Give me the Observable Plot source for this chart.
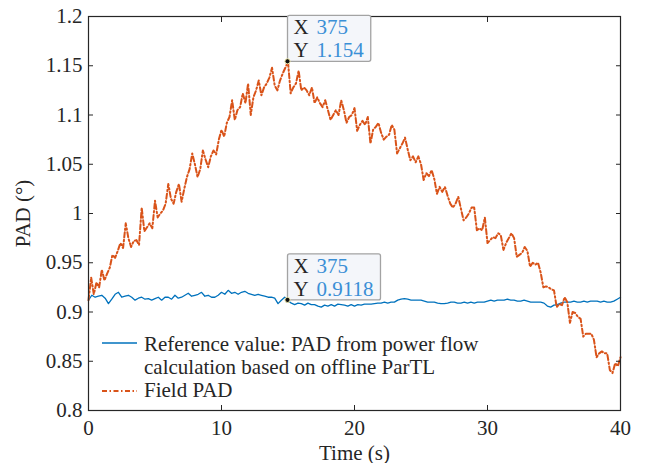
<!DOCTYPE html>
<html><head><meta charset="utf-8">
<script src="https://cdn.jsdelivr.net/npm/d3@7"></script>
<script src="https://cdn.jsdelivr.net/npm/@observablehq/plot@0.6"></script>
<style>body{margin:0;background:#fff} #chart{width:650px;height:463px;}</style>
</head><body><div id="chart"></div>
<script>
// Field PAD, sampled every 0.2 s (0 .. 40 s)
const fieldStep = 0.2;
const fieldPAD = [
  0.912, 0.935, 0.918, 0.930, 0.925,
  0.943, 0.932, 0.939, 0.945, 0.958,
  0.955, 0.962, 0.970, 0.965, 0.990,
  0.975, 0.966, 0.972, 0.973, 0.968,
  1.006, 0.982, 0.986, 0.990, 0.985,
  1.013, 0.996, 1.000, 1.003, 1.010,
  1.030, 1.015, 1.010, 1.022, 1.030,
  1.012, 1.025, 1.037, 1.045, 1.061,
  1.050, 1.037, 1.045, 1.064, 1.055,
  1.047, 1.058, 1.064, 1.060, 1.075,
  1.085, 1.078, 1.092, 1.098, 1.115,
  1.095, 1.105, 1.108, 1.122, 1.112,
  1.132, 1.100, 1.118, 1.125, 1.135,
  1.120, 1.128, 1.132, 1.138, 1.148,
  1.130, 1.125, 1.135, 1.142, 1.148,
  1.154, 1.122, 1.128, 1.132, 1.145,
  1.125, 1.128, 1.125, 1.120, 1.128,
  1.112, 1.118, 1.112, 1.108, 1.115,
  1.105, 1.095, 1.100, 1.105, 1.100,
  1.115, 1.105, 1.092, 1.098, 1.100,
  1.107, 1.084, 1.090, 1.094, 1.090,
  1.098, 1.071, 1.085, 1.088, 1.092,
  1.082, 1.075, 1.078, 1.080, 1.090,
  1.085, 1.061, 1.066, 1.071, 1.077,
  1.065, 1.054, 1.058, 1.052, 1.058,
  1.050, 1.034, 1.041, 1.038, 1.044,
  1.035, 1.020, 1.027, 1.022, 1.027,
  1.018, 1.010, 1.006, 1.010, 1.017,
  1.005, 0.993, 0.996, 1.000, 1.006,
  1.006, 0.983, 0.985, 0.983, 0.996,
  0.970, 0.973, 0.976, 0.975, 0.980,
  0.978, 0.963, 0.970, 0.975, 0.980,
  0.975, 0.956, 0.958, 0.960, 0.966,
  0.962, 0.946, 0.950, 0.948, 0.950,
  0.940, 0.925, 0.926, 0.925, 0.923,
  0.922, 0.905, 0.908, 0.907, 0.915,
  0.910, 0.889, 0.900, 0.899, 0.895,
  0.893, 0.875, 0.878, 0.878, 0.878,
  0.872, 0.854, 0.858, 0.860, 0.858,
  0.858, 0.841, 0.838, 0.848, 0.845,
  0.854
];
// Reference PAD, sampled every 0.25 s (0 .. 40 s)
const refStep = 0.25;
const refPAD = [
  0.912, 0.917, 0.915, 0.916,
  0.917, 0.914, 0.9085, 0.913,
  0.918, 0.920, 0.915, 0.916,
  0.917, 0.915, 0.912, 0.914,
  0.915, 0.913, 0.9135, 0.912,
  0.9135, 0.915, 0.912, 0.915,
  0.915, 0.913, 0.917, 0.914,
  0.915, 0.917, 0.919, 0.916,
  0.917, 0.918, 0.920, 0.916,
  0.917, 0.915, 0.915, 0.917,
  0.920, 0.918, 0.922, 0.919,
  0.920, 0.918, 0.920, 0.921,
  0.919, 0.918, 0.917, 0.918,
  0.917, 0.916, 0.915, 0.915,
  0.914, 0.9085, 0.912, 0.915,
  0.9118, 0.909, 0.9075, 0.909,
  0.9085, 0.907, 0.909, 0.9075,
  0.9075, 0.906, 0.905, 0.907,
  0.906, 0.9075, 0.906, 0.908,
  0.9075, 0.907, 0.906, 0.9075,
  0.906, 0.9075, 0.907, 0.908,
  0.908, 0.908, 0.9085, 0.909,
  0.909, 0.910, 0.909, 0.910,
  0.910, 0.912, 0.913, 0.9135,
  0.913, 0.912, 0.912, 0.912,
  0.912, 0.911, 0.910, 0.910,
  0.910, 0.909, 0.9085, 0.9085,
  0.909, 0.910, 0.910, 0.909,
  0.909, 0.910, 0.909, 0.910,
  0.909, 0.910, 0.910, 0.910,
  0.911, 0.912, 0.911, 0.912,
  0.912, 0.912, 0.913, 0.912,
  0.912, 0.911, 0.911, 0.912,
  0.911, 0.910, 0.910, 0.910,
  0.910, 0.909, 0.906, 0.905,
  0.907, 0.9075, 0.909, 0.910,
  0.910, 0.910, 0.911, 0.910,
  0.910, 0.911, 0.910, 0.911,
  0.911, 0.911, 0.910, 0.911,
  0.910, 0.910, 0.911, 0.913,
  0.915
];
const xTicks = [0, 10, 20, 30, 40];
const yTicks = [0.8, 0.85, 0.9, 0.95, 1, 1.05, 1.1, 1.15, 1.2];
const yTickLabels = ["0.8", "0.85", "0.9", "0.95", "1", "1.05", "1.1", "1.15", "1.2"];
const xLabel = "Time (s)";
const yLabel = "PAD (°)";
const legendRefLines = ["Reference value: PAD from power flow", "calculation based on offline ParTL"];
const legendField = "Field PAD";
const tipX = [15, 15];
const tipY = [1.154, 0.9118];
const tipXText = ["375", "375"];
const tipYText = ["1.154", "0.9118"];

const blue = "#0072BD", orange = "#D95319", ink = "#262626";
const field = fieldPAD.map((v, i) => ({t: +(i * fieldStep).toFixed(2), v}));
const ref = refPAD.map((v, i) => ({t: +(i * refStep).toFixed(2), v}));
const fmtY = d => yTickLabels[yTicks.indexOf(d)];
const font = "'Liberation Serif', 'Times New Roman', serif";

const chart = Plot.plot({
  width: 650, height: 463,
  marginLeft: 88, marginRight: 30, marginTop: 16, marginBottom: 53,
  style: {fontFamily: font, fontSize: "21px", color: ink, background: "#fff"},
  x: {domain: [0, 40]},
  y: {domain: [0.8, 1.2]},
  marks: [
    Plot.line(ref, {x: "t", y: "v", stroke: blue, strokeWidth: 1.3}),
    Plot.line(field, {x: "t", y: "v", stroke: orange, strokeWidth: 2, strokeDasharray: "5,2.5,1.5,2.5"}),
    Plot.frame({stroke: ink, strokeWidth: 1.2}),
    Plot.axisX({ticks: xTicks, tickSize: 0, tickPadding: 10, tickFormat: d => String(d), label: xLabel, labelAnchor: "center", labelArrow: "none", labelOffset: 49}),
    Plot.axisX({ticks: xTicks, anchor: "bottom", tickSize: 5, dy: -5, tickFormat: () => "", label: null, stroke: ink}),
    Plot.axisX({ticks: xTicks, anchor: "top", tickSize: 5, dy: 5, tickFormat: () => "", label: null, stroke: ink}),
    Plot.axisY({ticks: yTicks, tickSize: 0, tickPadding: 6, tickFormat: fmtY, label: yLabel, labelAnchor: "center", labelArrow: "none", labelOffset: 73}),
    Plot.axisY({ticks: yTicks, anchor: "left", tickSize: 5, dx: 5, tickFormat: () => "", label: null, stroke: ink}),
    Plot.axisY({ticks: yTicks, anchor: "right", tickSize: 5, dx: -5, tickFormat: () => "", label: null, stroke: ink})
  ]
});
document.getElementById("chart").appendChild(chart);

const svg = d3.select(chart);
const sx = chart.scale("x"), sy = chart.scale("y");

// Legend (inside the axes, lower left)
const x0 = sx.apply(0), yb = sy.apply(0.8);
const lg = svg.append("g").attr("font-family", font).attr("font-size", 21).attr("fill", ink).attr("text-anchor", "start");
lg.append("line").attr("x1", x0 + 14).attr("x2", x0 + 49).attr("y1", yb - 67).attr("y2", yb - 67)
  .attr("stroke", blue).attr("stroke-width", 1.3);
legendRefLines.forEach((s, i) => lg.append("text").attr("x", x0 + 56).attr("y", yb - 59 + i * 23).text(s));
lg.append("line").attr("x1", x0 + 14).attr("x2", x0 + 49).attr("y1", yb - 19).attr("y2", yb - 19)
  .attr("stroke", orange).attr("stroke-width", 1.8).attr("stroke-dasharray", "5,2.5,1.5,2.5");
lg.append("text").attr("x", x0 + 56).attr("y", yb - 13).text(legendField);

// Data tips
tipX.forEach((xv, i) => {
  const px = sx.apply(xv), py = sy.apply(tipY[i]);
  const g = svg.append("g").attr("font-family", font).attr("font-size", 21).attr("text-anchor", "start");
  const rect = g.append("rect").attr("x", px).attr("y", py - 46).attr("height", 46).attr("rx", 2)
    .attr("fill", "#f4f6fa").attr("stroke", "#a3a3a3").attr("stroke-width", 1.3);
  g.append("text").attr("x", px + 6).attr("y", py - 27).attr("fill", ink).text("X");
  g.append("text").attr("x", px + 6).attr("y", py - 4).attr("fill", ink).text("Y");
  const v1 = g.append("text").attr("x", px + 29).attr("y", py - 27).attr("fill", "#3a8fd6").text(tipXText[i]);
  const v2 = g.append("text").attr("x", px + 29).attr("y", py - 4).attr("fill", "#3a8fd6").text(tipYText[i]);
  const w = Math.max(v1.node().getComputedTextLength(), v2.node().getComputedTextLength());
  rect.attr("width", 29 + w + 7);
  g.append("circle").attr("cx", px).attr("cy", py).attr("r", 2.6).attr("fill", "#111").attr("stroke", "#f5f0b0").attr("stroke-width", 1);
});
</script>
</body></html>
